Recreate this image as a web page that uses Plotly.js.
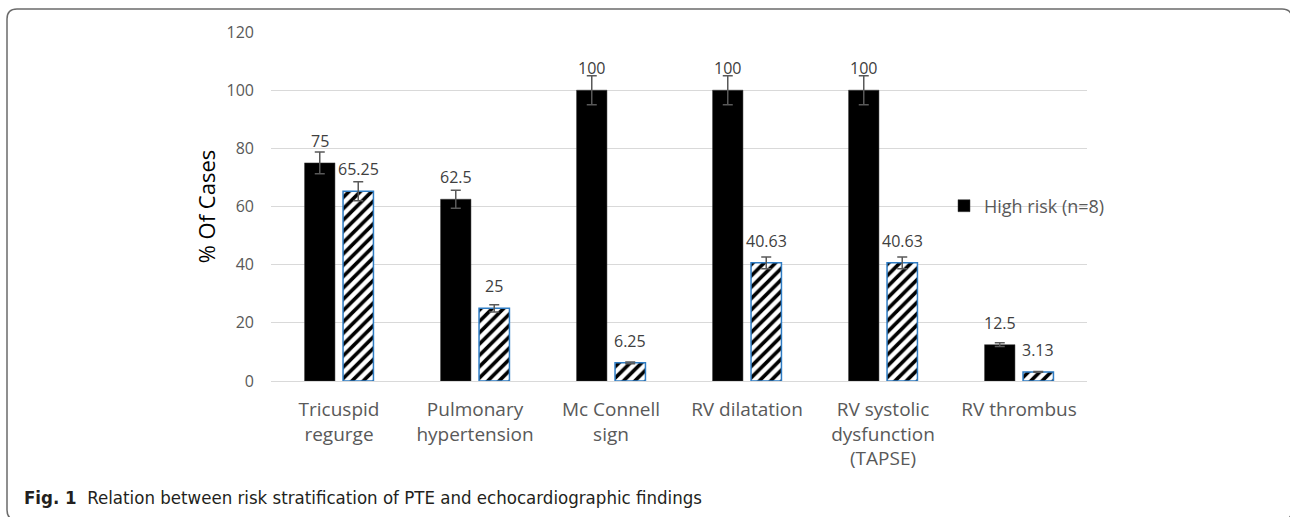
<!DOCTYPE html>
<html>
<head>
<meta charset="utf-8">
<script src="https://cdn.plot.ly/plotly-3.0.1.min.js"></script>
<style>
  html, body { margin: 0; padding: 0; background: #ffffff; }
  #chart { width: 1290px; height: 517px; }
</style>
</head>
<body>
<div id="chart"></div>
<script>
// ---- data ----
var categories = [
  "Tricuspid<br>regurge",
  "Pulmonary<br>hypertension",
  "Mc Connell<br>sign",
  "RV dilatation",
  "RV systolic<br>dysfunction<br>(TAPSE)",
  "RV thrombus"
];
var highRiskName = "High risk (n=8)";
var highRisk = [75, 62.5, 100, 100, 100, 12.5];
var otherName = "Intermediate/low risk";
var otherRisk = [65.25, 25, 6.25, 40.63, 40.63, 3.13];
var yTicks = [0, 20, 40, 60, 80, 100, 120];
var yTitle = "% Of Cases";
var captionBold = "Fig. 1";
var captionText = "Relation between risk stratification of PTE and echocardiographic findings";

// ---- layout geometry (pixels) ----
var W = 1290, H = 517;
var M = {l: 271, r: 203, t: 32, b: 136};
var pw = W - M.l - M.r, ph = H - M.t - M.b;
function px(x) { return (x - M.l) / pw; }
function py(y) { return (H - M.b - y) / ph; }

var gray = "#595959";
var textFont = "Open Sans, Noto Sans, sans-serif";

var traces = [
  {
    type: "bar",
    name: highRiskName,
    x: categories,
    y: highRisk,
    marker: {color: "#000000", line: {color: "#3a3a3a", width: 0.5}},
    error_y: {type: "percent", value: 5, color: gray, thickness: 1.5, width: 5},
    showlegend: true,
    hoverinfo: "x+y"
  },
  {
    type: "bar",
    name: otherName,
    x: categories,
    y: otherRisk,
    marker: {
      color: "#ffffff",
      pattern: {shape: "/", fgcolor: "#000000", bgcolor: "#ffffff", size: 8, solidity: 0.45},
      line: {color: "#2E7CC4", width: 1.5}
    },
    error_y: {type: "percent", value: 5, color: gray, thickness: 1.5, width: 5},
    showlegend: false,
    hoverinfo: "x+y"
  }
];

// data labels
var slotShift = 19.25;
var annotations = [];
categories.forEach(function (c, i) {
  annotations.push({
    x: c, y: highRisk[i], xref: "x", yref: "y",
    text: String(highRisk[i]), showarrow: false,
    xanchor: "center", yanchor: "bottom", xshift: -slotShift, yshift: 9,
    font: {family: textFont, size: 16, color: "#404040"}
  });
  annotations.push({
    x: c, y: otherRisk[i], xref: "x", yref: "y",
    text: String(otherRisk[i]), showarrow: false,
    xanchor: "center", yanchor: "bottom", xshift: slotShift, yshift: 9,
    font: {family: textFont, size: 16, color: "#404040"}
  });
});

// caption
annotations.push({
  xref: "paper", yref: "paper",
  x: px(22), y: py(497), xanchor: "left", yanchor: "middle",
  showarrow: false,
  text: "<b>" + captionBold + "</b>  " + captionText,
  font: {family: "Liberation Sans Narrow, DejaVu Sans Condensed, sans-serif", size: 18.5, color: "#231f20"}
});

// rounded frame around the figure
var x0 = 7, y0 = 9, x1 = 1292, y1 = 520, r = 10;
var framePath =
  "M" + px(x0) + "," + py(y1 - r) +
  " L" + px(x0) + "," + py(y0 + r) +
  " Q" + px(x0) + "," + py(y0) + " " + px(x0 + r) + "," + py(y0) +
  " L" + px(x1 - r) + "," + py(y0) +
  " Q" + px(x1) + "," + py(y0) + " " + px(x1) + "," + py(y0 + r) +
  " L" + px(x1) + "," + py(y1 - r) +
  " Q" + px(x1) + "," + py(y1) + " " + px(x1 - r) + "," + py(y1) +
  " L" + px(x0 + r) + "," + py(y1) +
  " Q" + px(x0) + "," + py(y1) + " " + px(x0) + "," + py(y1 - r) + " Z";

var layout = {
  width: W, height: H,
  margin: M,
  paper_bgcolor: "#ffffff",
  plot_bgcolor: "#ffffff",
  barmode: "group",
  bargap: 0.434,
  bargroupgap: 0.21,
  showlegend: true,
  legend: {
    x: px(944), y: py(206), xanchor: "left", yanchor: "middle",
    bgcolor: "rgba(0,0,0,0)",
    font: {family: textFont, size: 18, color: gray}
  },
  xaxis: {
    type: "category",
    showgrid: false,
    showline: false,
    zeroline: false,
    ticks: "",
    ticklabelstandoff: 15,
    tickfont: {family: textFont, size: 19, color: gray}
  },
  yaxis: {
    range: [0, 120],
    tickvals: yTicks,
    ticktext: yTicks.map(String),
    showgrid: true,
    gridcolor: "#d9d9d9",
    gridwidth: 1,
    zeroline: true,
    zerolinecolor: "#d9d9d9",
    zerolinewidth: 1,
    showline: false,
    ticks: "",
    ticklabelstandoff: 16,
    tickfont: {family: textFont, size: 16, color: gray},
    title: {text: yTitle, standoff: 4, font: {family: textFont, size: 22, color: "#000000"}}
  },
  annotations: annotations,
  shapes: [{
    type: "path", xref: "paper", yref: "paper",
    path: framePath,
    line: {color: "#6b6b6b", width: 1.5},
    fillcolor: "rgba(0,0,0,0)",
    layer: "above"
  }]
};

Plotly.newPlot("chart", traces, layout, {displayModeBar: false, staticPlot: true});
</script>
</body>
</html>
